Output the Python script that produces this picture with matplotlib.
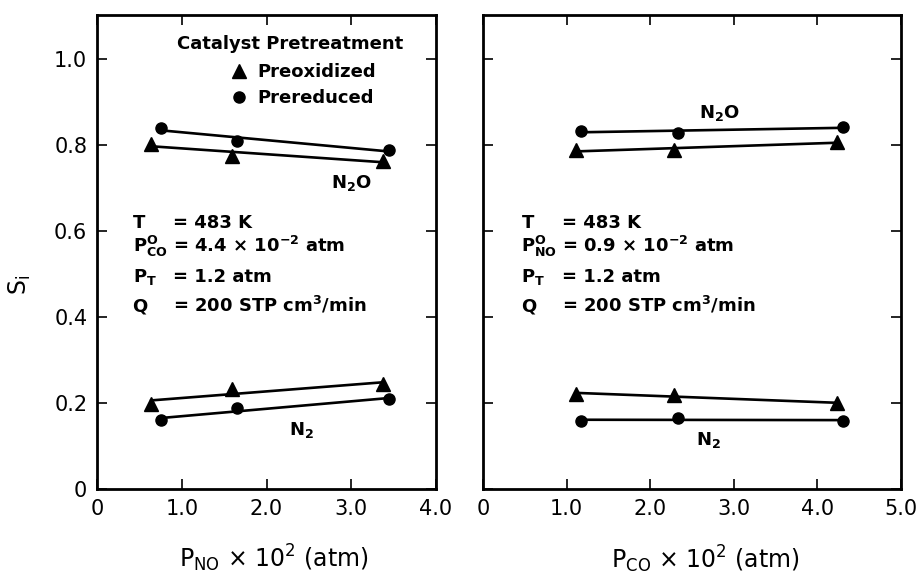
import matplotlib
matplotlib.use("Agg")
import matplotlib.pyplot as plt
from matplotlib.lines import Line2D
import numpy as np

plt.rcParams['font.family'] = ['DejaVu Sans']
plt.rcParams['mathtext.default'] = 'regular'

# selectivity vs P_NO (left) at fixed P_CO
pno_ox = [0.64, 1.59, 3.38]
pno_red = [0.75, 1.65, 3.44]
n2o_ox_no = [0.803, 0.775, 0.763]
n2o_red_no = [0.840, 0.809, 0.788]
n2_ox_no = [0.198, 0.233, 0.244]
n2_red_no = [0.160, 0.188, 0.209]

# selectivity vs P_CO (right) at fixed P_NO
pco_ox = [1.11, 2.28, 4.23]
pco_red = [1.17, 2.33, 4.31]
n2o_ox_co = [0.788, 0.788, 0.807]
n2o_red_co = [0.833, 0.828, 0.842]
n2_ox_co = [0.221, 0.219, 0.199]
n2_red_co = [0.159, 0.164, 0.159]

yticks = [0, 0.2, 0.4, 0.6, 0.8, 1.0]
ytick_labels = ['0', '0.2', '0.4', '0.6', '0.8', '1.0']
xticks_no = [0, 1, 2, 3, 4]
xtick_labels_no = ['0', '1.0', '2.0', '3.0', '4.0']
xticks_co = [0, 1, 2, 3, 4, 5]
xtick_labels_co = ['0', '1.0', '2.0', '3.0', '4.0', '5.0']

W, H = 922, 582
fig = plt.figure(figsize=(W / 100, H / 100), dpi=100)
ax1 = fig.add_axes([97 / W, 1 - 489 / H, 339 / W, 474 / H])
ax2 = fig.add_axes([483 / W, 1 - 489 / H, 418 / W, 474 / H])

bold = dict(fontsize=13, fontweight='bold')


def series(ax, x, y, marker, ms):
    x = np.array(x)
    y = np.array(y)
    k, b = np.polyfit(x, y, 1)
    xs = np.array([x.min(), x.max()])
    ax.plot(xs, k * xs + b, color='k', lw=1.9, zorder=2)
    ax.plot(x, y, ls='none', marker=marker, ms=ms, color='k', zorder=3)


for ax, xt, xl, xmax in [(ax1, xticks_no, xtick_labels_no, 4.0),
                         (ax2, xticks_co, xtick_labels_co, 5.0)]:
    ax.set_xlim(0, xmax)
    ax.set_ylim(0, 474 / 430)
    ax.set_xticks(xt)
    ax.set_xticklabels(xl)
    ax.set_yticks(yticks)
    ax.tick_params(direction='in', length=7, width=1.2, top=True, right=True,
                   labelsize=15, pad=7)
    for s in ax.spines.values():
        s.set_linewidth(2)

ax1.set_yticklabels(ytick_labels)
ax2.set_yticklabels([])

series(ax1, pno_red, n2o_red_no, 'o', 8)
series(ax1, pno_ox, n2o_ox_no, '^', 10)
series(ax1, pno_ox, n2_ox_no, '^', 10)
series(ax1, pno_red, n2_red_no, 'o', 8)

series(ax2, pco_red, n2o_red_co, 'o', 8)
series(ax2, pco_ox, n2o_ox_co, '^', 10)
series(ax2, pco_ox, n2_ox_co, '^', 10)
series(ax2, pco_red, n2_red_co, 'o', 8)

# legend for pretreatment
ax1.text(0.944, 1.023, 'Catalyst Pretreatment', ha='left', va='baseline',
         **bold)
handles = [Line2D([], [], ls='none', marker='^', ms=10, color='k'),
           Line2D([], [], ls='none', marker='o', ms=8, color='k')]
ax1.legend(handles, ['Preoxidized', 'Prereduced'], loc='upper left',
           bbox_to_anchor=(0.392, 0.898), frameon=False,
           prop=dict(size=13, weight='bold'), handlelength=1.0,
           handletextpad=0.5, labelspacing=0.45, borderpad=0,
           borderaxespad=0)

ax1.text(3.0, 0.700, 'N$_2$O', ha='center', va='baseline', **bold)
ax1.text(2.41, 0.126, 'N$_2$', ha='center', va='baseline', **bold)
ax2.text(2.83, 0.863, 'N$_2$O', ha='center', va='baseline', **bold)
ax2.text(2.70, 0.102, 'N$_2$', ha='center', va='baseline', **bold)

# operating conditions
rows_y = [0.607, 0.551, 0.481, 0.412]
cond_no = [('T', '= 483 K'),
           ('P$^{O}_{CO}$', '= 4.4 × 10$^{-2}$ atm'),
           ('P$_T$', '= 1.2 atm'),
           ('Q', '= 200 STP cm$^3$/min')]
cond_co = [('T', '= 483 K'),
           ('P$^{O}_{NO}$', '= 0.9 × 10$^{-2}$ atm'),
           ('P$_T$', '= 1.2 atm'),
           ('Q', '= 200 STP cm$^3$/min')]
for (sym, val), y in zip(cond_no, rows_y):
    ax1.text(0.42, y, sym, ha='left', va='baseline', **bold)
    ax1.text(0.90, y, val, ha='left', va='baseline', **bold)
for (sym, val), y in zip(cond_co, rows_y):
    ax2.text(0.46, y, sym, ha='left', va='baseline', **bold)
    ax2.text(0.95, y, val, ha='left', va='baseline', **bold)

fig.text(274 / W, 1 - 567 / H, 'P$_{NO}$ × 10$^2$ (atm)', ha='center',
         va='baseline', fontsize=17)
fig.text(705 / W, 1 - 568 / H, 'P$_{CO}$ × 10$^2$ (atm)', ha='center',
         va='baseline', fontsize=17)
fig.text(20 / W, 1 - 285 / H, 'S$_i$', rotation=90, ha='center',
         va='center', fontsize=17)

fig.savefig('out.png', dpi=100)
